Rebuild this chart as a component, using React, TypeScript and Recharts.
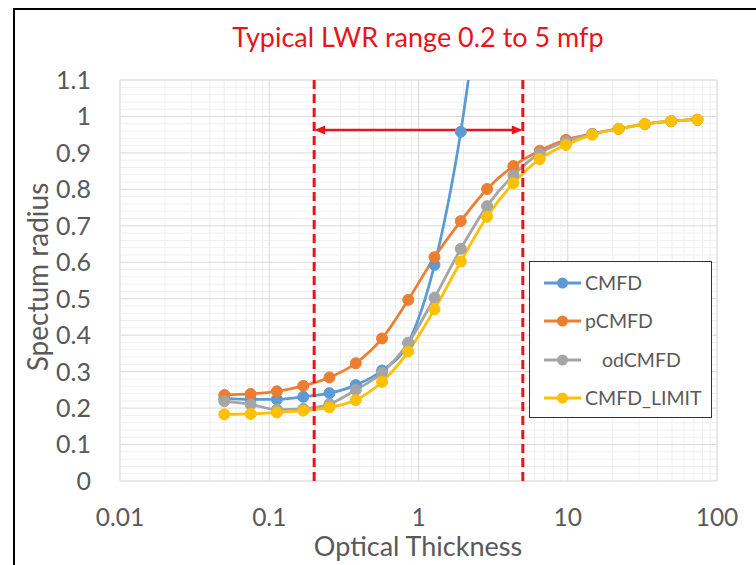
import React from 'react';
import {
  LineChart,
  Line,
  XAxis,
  YAxis,
  CartesianGrid,
  ReferenceLine,
  Legend,
} from 'recharts';

// ---- data ----
const opticalThickness = [0.05, 0.075, 0.1125, 0.169, 0.253, 0.38, 0.57, 0.854, 1.28, 1.92, 2.88, 4.32, 6.49, 9.73, 14.6, 21.9, 32.8, 49.3, 73.9];
const cmfdValues = [0.226, 0.224, 0.224, 0.231, 0.241, 0.263, 0.303, 0.379, 0.593, 0.958, 1.5, null, null, null, null, null, null, null, null];
const pcmfdValues = [0.236, 0.239, 0.246, 0.261, 0.284, 0.323, 0.391, 0.497, 0.614, 0.713, 0.801, 0.864, 0.906, 0.936, 0.952, 0.966, 0.979, 0.987, 0.991];
const odcmfdValues = [0.219, 0.21, 0.196, 0.198, 0.211, 0.25, 0.297, 0.379, 0.503, 0.637, 0.754, 0.839, 0.899, 0.931, 0.952, 0.966, 0.979, 0.987, 0.991];
const limitValues = [0.183, 0.184, 0.188, 0.193, 0.202, 0.222, 0.272, 0.355, 0.471, 0.602, 0.725, 0.817, 0.883, 0.922, 0.95, 0.966, 0.979, 0.987, 0.991];

const seriesNames = ['CMFD', 'pCMFD', 'odCMFD', 'CMFD_LIMIT'];
const seriesKeys = ['cmfd', 'pcmfd', 'odcmfd', 'limit'];
const seriesColors = ['#5B9BD5', '#ED7D31', '#A5A5A5', '#FFC000'];

const xTicks = [0.01, 0.1, 1, 10, 100];
const yTicks = [0, 0.1, 0.2, 0.3, 0.4, 0.5, 0.6, 0.7, 0.8, 0.9, 1, 1.1];
const xMinorTicks = [0.02, 0.03, 0.04, 0.05, 0.06, 0.07, 0.08, 0.09, 0.2, 0.3, 0.4, 0.5, 0.6, 0.7, 0.8, 0.9, 2, 3, 4, 5, 6, 7, 8, 9, 20, 30, 40, 50, 60, 70, 80, 90];
const yMinorTicks = [0.02, 0.04, 0.06, 0.08, 0.12, 0.14, 0.16, 0.18, 0.22, 0.24, 0.26, 0.28, 0.32, 0.34, 0.36, 0.38, 0.42, 0.44, 0.46, 0.48, 0.52, 0.54, 0.56, 0.58, 0.62, 0.64, 0.66, 0.68, 0.72, 0.74, 0.76, 0.78, 0.82, 0.84, 0.86, 0.88, 0.92, 0.94, 0.96, 0.98, 1.02, 1.04, 1.06, 1.08];

const rangeLow = 0.2;
const rangeHigh = 5;
const arrowLevel = 0.963;
const dashTop = 1.112;

const titleText = 'Typical LWR range 0.2 to 5 mfp';
const xTitle = 'Optical Thickness';
const yTitle = 'Spectum radius';

const seriesValues = [cmfdValues, pcmfdValues, odcmfdValues, limitValues];
const data = opticalThickness.map((x, i) => {
  const row: any = { x };
  seriesKeys.forEach((k, j) => {
    row[k] = seriesValues[j][i];
  });
  return row;
});

const RED = '#E8141C';
const TEXT = '#595959';
const FONT = 'Lato, "Open Sans", sans-serif';

const ArrowShape = (props: any) => {
  const { x1, y1, x2, y2 } = props;
  const head = 11;
  const half = 4.5;
  const left = Math.min(x1, x2);
  const right = Math.max(x1, x2);
  const y = (y1 + y2) / 2;
  return (
    <g>
      <line x1={left + head - 1} y1={y} x2={right - head + 1} y2={y} stroke={RED} strokeWidth={2.6} />
      <polygon points={`${left},${y} ${left + head},${y - half} ${left + head},${y + half}`} fill={RED} />
      <polygon points={`${right},${y} ${right - head},${y - half} ${right - head},${y + half}`} fill={RED} />
    </g>
  );
};

const LegendBox = () => (
  <div
    style={{
      width: 183,
      height: 157,
      boxSizing: 'border-box',
      border: '1.2px solid #333',
      background: '#fff',
      position: 'relative',
      fontFamily: FONT,
    }}
  >
    {seriesNames.map((name, i) => {
      const cy = 21 + i * 38.3;
      const indent = name === 'odCMFD' ? 17 : 0;
      return (
        <div key={name} style={{ position: 'absolute', left: 0, top: cy - 14, height: 28, width: '100%' }}>
          <svg width={60} height={28} style={{ position: 'absolute', left: 0, top: 0 }}>
            <line x1={14} y1={14} x2={51} y2={14} stroke={seriesColors[i]} strokeWidth={3} />
            <circle cx={32.5} cy={14} r={5.5} fill={seriesColors[i]} />
          </svg>
          <span
            style={{
              position: 'absolute',
              left: 55 + indent,
              top: 0,
              lineHeight: '28px',
              fontSize: 19.5,
              color: TEXT,
              whiteSpace: 'nowrap',
            }}
          >
            {name}
          </span>
        </div>
      );
    })}
  </div>
);

export default function App() {
  return (
    <div style={{ position: 'absolute', left: 0, top: 0, width: 756, height: 565, overflow: 'hidden', background: '#fff' }}>
      <LineChart
        width={756}
        height={565}
        data={data}
        margin={{ top: 80, right: 39, left: 20, bottom: 0 }}
      >
        <XAxis xAxisId="minor" dataKey="x" type="number" scale="log" domain={[0.01, 100]} ticks={xMinorTicks} allowDataOverflow hide interval={0} />
        <YAxis yAxisId="minor" type="number" domain={[0, 1.1]} ticks={yMinorTicks} allowDataOverflow hide interval={0} />
        <CartesianGrid xAxisId="minor" yAxisId="minor" stroke="#efefef" strokeWidth={1} />
        <XAxis
          dataKey="x"
          type="number"
          scale="log"
          domain={[0.01, 100]}
          ticks={xTicks}
          allowDataOverflow
          interval={0}
          height={84}
          axisLine={false}
          tickLine={false}
          tickSize={0}
          tickMargin={28}
          tick={{ fill: TEXT, fontSize: 24.5, fontFamily: FONT }}
          tickFormatter={(v: number) => String(v)}
        />
        <YAxis
          type="number"
          domain={[0, 1.1]}
          ticks={yTicks}
          allowDataOverflow
          interval={0}
          width={100}
          axisLine={false}
          tickLine={false}
          tickSize={0}
          tickMargin={29}
          tick={{ fill: TEXT, fontSize: 25, fontFamily: FONT }}
          tickFormatter={(v: number) => String(Math.round(v * 10) / 10)}
        />
        <CartesianGrid stroke="#d9d9d9" strokeWidth={1} />
        {seriesKeys.map((k, i) => (
          <Line
            key={k}
            dataKey={k}
            name={seriesNames[i]}
            type="monotone"
            stroke={seriesColors[i]}
            strokeWidth={2.75}
            dot={{ r: 5.5, fill: seriesColors[i], stroke: seriesColors[i], strokeWidth: 1 }}
            activeDot={false}
            isAnimationActive={false}
          />
        ))}
        <ReferenceLine
          segment={[{ x: rangeLow, y: 0 }, { x: rangeLow, y: dashTop }]}
          stroke={RED}
          strokeWidth={3}
          strokeDasharray="9 5"
          ifOverflow="visible"
        />
        <ReferenceLine
          segment={[{ x: rangeHigh, y: 0 }, { x: rangeHigh, y: dashTop }]}
          stroke={RED}
          strokeWidth={3}
          strokeDasharray="9 5"
          ifOverflow="visible"
        />
        <ReferenceLine
          segment={[{ x: rangeLow, y: arrowLevel }, { x: rangeHigh, y: arrowLevel }]}
          ifOverflow="visible"
          shape={ArrowShape}
        />
        <Legend
          layout="horizontal"
          verticalAlign="middle"
          align="center"
          content={() => <LegendBox />}
          wrapperStyle={{ position: 'absolute', left: 529, top: 261, width: 183, height: 157, margin: 0, padding: 0 }}
        />
      </LineChart>

      <div
        style={{
          position: 'absolute',
          left: 12.5,
          top: 8.3,
          width: 800,
          height: 600,
          borderLeft: '2px solid #000',
          borderTop: '2px solid #000',
          pointerEvents: 'none',
        }}
      />
      <div
        style={{
          position: 'absolute',
          left: 218,
          top: 23,
          width: 400,
          textAlign: 'center',
          fontFamily: FONT,
          fontSize: 27,
          lineHeight: '28px',
          color: RED,
          whiteSpace: 'nowrap',
        }}
      >
        {titleText}
      </div>
      <div
        style={{
          position: 'absolute',
          left: 218,
          top: 532,
          width: 400,
          textAlign: 'center',
          fontFamily: FONT,
          fontSize: 27,
          lineHeight: '28px',
          color: TEXT,
          whiteSpace: 'nowrap',
        }}
      >
        {xTitle}
      </div>
      <div
        style={{
          position: 'absolute',
          left: 37 - 150,
          top: 277 - 14,
          width: 300,
          textAlign: 'center',
          fontFamily: FONT,
          fontSize: 28,
          lineHeight: '28px',
          color: TEXT,
          whiteSpace: 'nowrap',
          transform: 'rotate(-90deg)',
          transformOrigin: '150px 14px',
        }}
      >
        {yTitle}
      </div>
    </div>
  );
}
